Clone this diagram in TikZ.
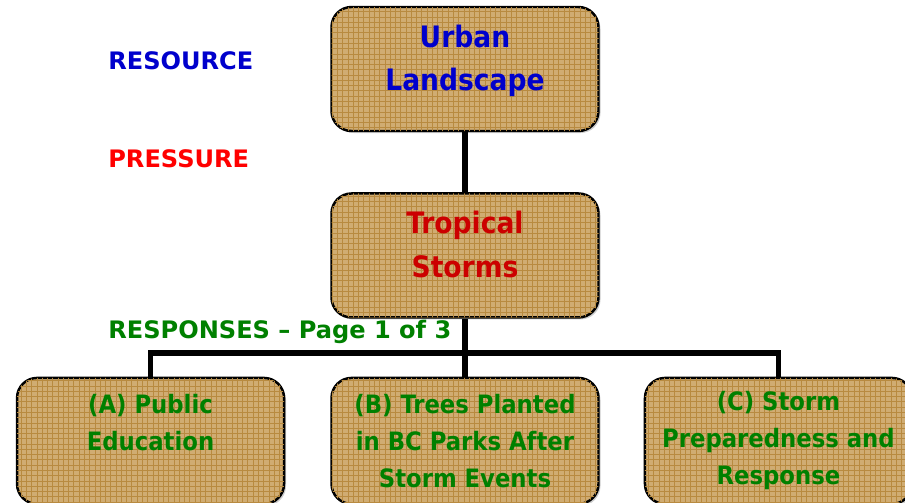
\documentclass[tikz,border=0pt]{standalone}
\usepackage{fontspec}
\setmainfont{DejaVu Sans}
\newfontfamily\boxfont{DejaVu Sans Condensed}
\usetikzlibrary{positioning,patterns,shadows}

\definecolor{burlap}{RGB}{208,172,114}
\definecolor{burlapgrid}{RGB}{184,138,64}
\definecolor{resourceblue}{RGB}{0,0,204}
\definecolor{pressurered}{RGB}{204,0,0}
\definecolor{responsegreen}{RGB}{0,128,0}

\begin{document}
\begin{tikzpicture}[
	topic/.style={
		shape=rectangle,
		draw,
		line width=1.4pt,
		rounded corners=0.4cm,
		fill=burlap,
		postaction={pattern=grid, pattern color=burlapgrid},
		drop shadow={shadow xshift=0.4mm, shadow yshift=-0.4mm, opacity=0.4},
		minimum width=5.34cm,
		minimum height=2.48cm,
		align=center,
		font=\boxfont\bfseries\fontsize{16.8}{25}\selectfont,
	},
	response/.style={
		topic,
		minimum height=2.52cm,
		text=responsegreen,
		font=\boxfont\bfseries\fontsize{14.4}{21}\selectfont,
	},
	tag/.style={
		anchor=west,
		inner sep=0pt,
		font=\bfseries\fontsize{13.7}{16}\selectfont,
	},
	link/.style={line width=3pt},
]
% page frame
\path[use as bounding box, clip] (0,0) rectangle (18.1,-10.04);

\node (urban) [topic, text=resourceblue, text depth=0.45cm] at (9.3,-1.38) {Urban\\Landscape};
\node (storms) [topic, text=pressurered, text depth=0.45cm, below=1.2cm of urban] {Tropical\\Storms};
\node (trees) [response, below=1.16cm of storms] {(B) Trees Planted\\in BC Parks After\\Storm Events};
\node (education) [response, left=0.9cm of trees] {(A) Public\\Education\\\mbox{}};
\node (prepare) [response, right=0.88cm of trees] {(C) Storm\\Preparedness and\\Response};

\node (resource) [tag, text=resourceblue] at (2.16,-1.22) {RESOURCE};
\node (pressure) [tag, text=red] at (2.16,-3.18) {PRESSURE};
\node (responses) [tag, text=responsegreen] at (2.16,-6.64) {RESPONSES -- Page 1 of 3};

\coordinate (split) at (9.3,-7.06);

\draw[link] (urban) -- (storms);
\draw[link] (storms) -- (split);
\draw[link] (education) |- (split) -| (prepare);
\draw[link] (split) -- (trees);
\end{tikzpicture}
\end{document}
